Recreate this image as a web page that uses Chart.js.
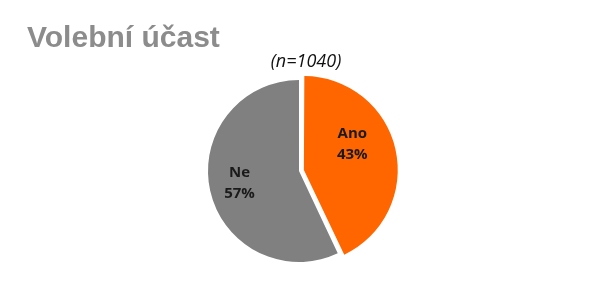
<!DOCTYPE html>
<html>
<head>
<meta charset="utf-8">
<script src="https://cdn.jsdelivr.net/npm/chart.js@4"></script>
<style>
html,body{margin:0;padding:0;background:#fff;}
#wrap{position:relative;width:610px;height:300px;}
canvas{position:absolute;left:0;top:0;}
</style>
</head>
<body>
<div id="wrap"><canvas id="c" width="610" height="300"></canvas></div>
<script>
const chartTitle = "Volební účast";
const chartSubtitle = "(n=1040)";
const categories = ["Ano", "Ne"];
const values = [43, 57];
const colors = ["#FF6600", "#808080"];

// label placement tweaks (style only)
const labelStyle = {
  radialFraction: [0.6, 0.67],
  nudge: [[0, -15], [0, -1]],
  font: "bold 15px 'Open Sans'",
  color: "#1a1a1a",
  lineGap: 21
};

const sliceLabels = {
  id: "sliceLabels",
  afterDatasetsDraw(chart) {
    const ctx = chart.ctx;
    const meta = chart.getDatasetMeta(0);
    const total = values.reduce((a, b) => a + b, 0);
    ctx.save();
    ctx.font = labelStyle.font;
    ctx.fillStyle = labelStyle.color;
    ctx.textAlign = "center";
    ctx.textBaseline = "middle";
    meta.data.forEach((arc, i) => {
      const p = arc.getProps(["x", "y", "startAngle", "endAngle", "outerRadius"], true);
      const mid = (p.startAngle + p.endAngle) / 2;
      const r = p.outerRadius * labelStyle.radialFraction[i];
      const cx = p.x + Math.cos(mid) * r + labelStyle.nudge[i][0];
      const cy = p.y + Math.sin(mid) * r + labelStyle.nudge[i][1];
      const pct = Math.round(values[i] / total * 100) + "%";
      ctx.fillText(categories[i], cx, cy - labelStyle.lineGap / 2);
      ctx.fillText(pct, cx, cy + labelStyle.lineGap / 2);
    });
    ctx.restore();
  }
};

const titles = {
  id: "titles",
  afterDraw(chart) {
    const ctx = chart.ctx;
    ctx.save();
    ctx.font = "bold 30px 'Liberation Sans', Arial, sans-serif";
    ctx.fillStyle = "#8c8c8c";
    ctx.textAlign = "left";
    ctx.textBaseline = "alphabetic";
    ctx.fillText(chartTitle, 27, 47);
    ctx.font = "italic 18px 'Open Sans'";
    ctx.fillStyle = "#111";
    ctx.textAlign = "center";
    ctx.textBaseline = "middle";
    ctx.fillText(chartSubtitle, 306, 62);
    ctx.restore();
  }
};

new Chart(document.getElementById("c"), {
  type: "pie",
  data: {
    labels: categories,
    datasets: [{
      data: values,
      backgroundColor: colors,
      borderWidth: 0,
      offset: [20, 0]
    }]
  },
  options: {
    responsive: false,
    animation: false,
    layout: { padding: { left: 198, right: 210, top: 70, bottom: 28 } },
    plugins: {
      legend: { display: false },
      tooltip: { enabled: false },
      title: { display: false }
    }
  },
  plugins: [sliceLabels, titles]
});
</script>
</body>
</html>
